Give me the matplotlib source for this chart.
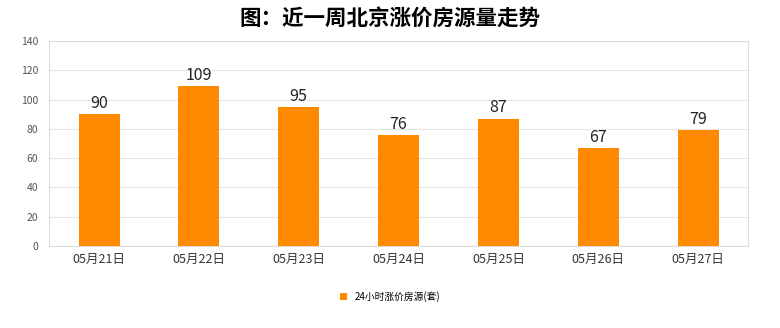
import matplotlib.pyplot as plt

plt.rcParams['font.family'] = ['Noto Sans CJK SC', 'DejaVu Sans']

dates = ['05月21日', '05月22日', '05月23日', '05月24日', '05月25日', '05月26日', '05月27日']
counts = [90, 109, 95, 76, 87, 67, 79]
series_name = '24小时涨价房源(套)'

fig = plt.figure(figsize=(7.8, 3.28), dpi=100)
ax = fig.add_axes([0.063, 0.25, 0.896, 0.625])

x = range(len(dates))
bars = ax.bar(x, counts, width=0.41, color='#FF8A00', label=series_name, zorder=3)
for b, v in zip(bars, counts):
    ax.text(b.get_x() + b.get_width() / 2, v + 1.5, str(v), ha='center', va='bottom',
            fontsize=11.5, color='#222222')

ax.set_xlim(-0.5, len(dates) - 0.5)
ax.set_ylim(0, 140)
ax.set_yticks(range(0, 141, 20))
ax.set_xticks(list(x))
ax.set_xticklabels(dates, fontsize=9, color='#333333')
ax.tick_params(axis='y', labelsize=7.5, colors='#555555', length=0, pad=8)
ax.tick_params(axis='x', length=0, pad=5)
ax.grid(axis='y', color='#e6e6e6', linewidth=0.8, zorder=0)
for s in ax.spines.values():
    s.set_color('#dddddd')
    s.set_linewidth(0.8)

fig.suptitle('图：近一周北京涨价房源量走势', fontsize=15.5, fontweight='bold', y=0.975)

fig.legend(handles=[bars], labels=[series_name], loc='center', bbox_to_anchor=(0.5, 0.097),
           frameon=False, fontsize=7, handlelength=0.7, handleheight=0.7)

fig.savefig('out.png', dpi=100)
